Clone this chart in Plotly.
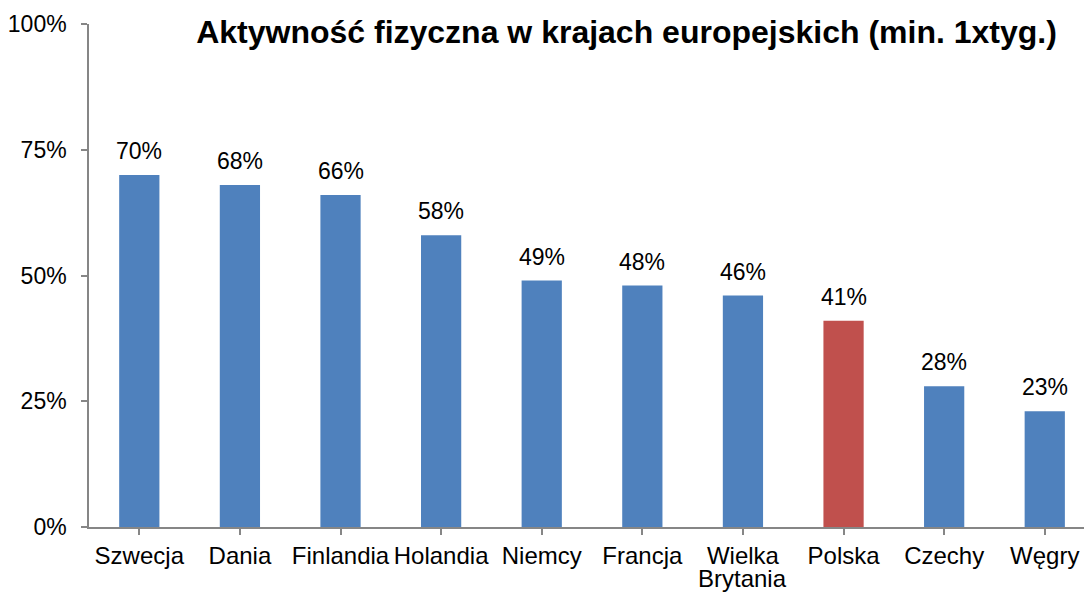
import plotly.graph_objects as go

countries = ["Szwecja", "Dania", "Finlandia", "Holandia", "Niemcy", "Francja",
             "Wielka<br>Brytania", "Polska", "Czechy", "Węgry"]
values = [70, 68, 66, 58, 49, 48, 46, 41, 28, 23]
colors = ["#4F81BD"] * 7 + ["#C0504D"] + ["#4F81BD"] * 2
labels = [f"{v}%" for v in values]
y_ticks = [0, 25, 50, 75, 100]
y_tick_labels = ["0%", "25%", "50%", "75%", "100%"]
title = "Aktywność fizyczna w krajach europejskich (min. 1xtyg.)"

FONT = "Liberation Sans, Arial, sans-serif"

# first line of each category name goes on the axis, any second line is
# placed just below it with tighter line spacing (as in the reference)
first_lines = [c.split("<br>")[0] for c in countries]
second_lines = [c.split("<br>")[1] if "<br>" in c else "" for c in countries]

fig = go.Figure()
fig.add_trace(go.Bar(
    x=list(range(len(countries))), y=values, marker_color=colors,
    marker_line_width=0, width=0.4, hoverinfo="skip"
))

for i, (v, t) in enumerate(zip(values, labels)):
    fig.add_annotation(x=i, y=v, text=t, showarrow=False, yanchor="bottom",
                       yshift=9, font=dict(size=23, color="#000000", family=FONT))

for i, s in enumerate(second_lines):
    if s:
        fig.add_annotation(x=i, xref="x", y=0, yref="paper", text=s,
                           showarrow=False, yanchor="top", yshift=-36,
                           font=dict(size=24, color="#000000", family=FONT))

fig.update_layout(
    width=1084, height=593,
    margin=dict(l=89, r=0, t=24, b=66),
    paper_bgcolor="white", plot_bgcolor="white",
    showlegend=False,
    font=dict(family=FONT, color="#000000"),
    title=dict(text="<b>" + title + "</b>", x=626.5 / 1084, xanchor="center",
               xref="container",
               y=1 - 32 / 593, yanchor="middle", yref="container",
               font=dict(size=32, color="#000000", family=FONT)),
    xaxis=dict(
        range=[-0.5, 9.39], tickmode="array", tickvals=list(range(len(countries))),
        ticktext=first_lines, showline=True, linecolor="#868686", linewidth=1.5,
        ticks="outside", ticklen=6, tickcolor="#868686", tickwidth=1.5,
        showgrid=False, zeroline=False, tickfont=dict(size=24, color="#000000"),
        ticklabelstandoff=0, automargin=False
    ),
    yaxis=dict(
        range=[0, 100], tickmode="array", tickvals=y_ticks, ticktext=y_tick_labels,
        showline=True, linecolor="#868686", linewidth=1.5,
        ticks="outside", ticklen=6, tickcolor="#868686", tickwidth=1.5,
        showgrid=False, zeroline=False, tickfont=dict(size=23, color="#000000"),
        ticklabelstandoff=10, automargin=False
    ),
)

fig.write_html("out.html")
